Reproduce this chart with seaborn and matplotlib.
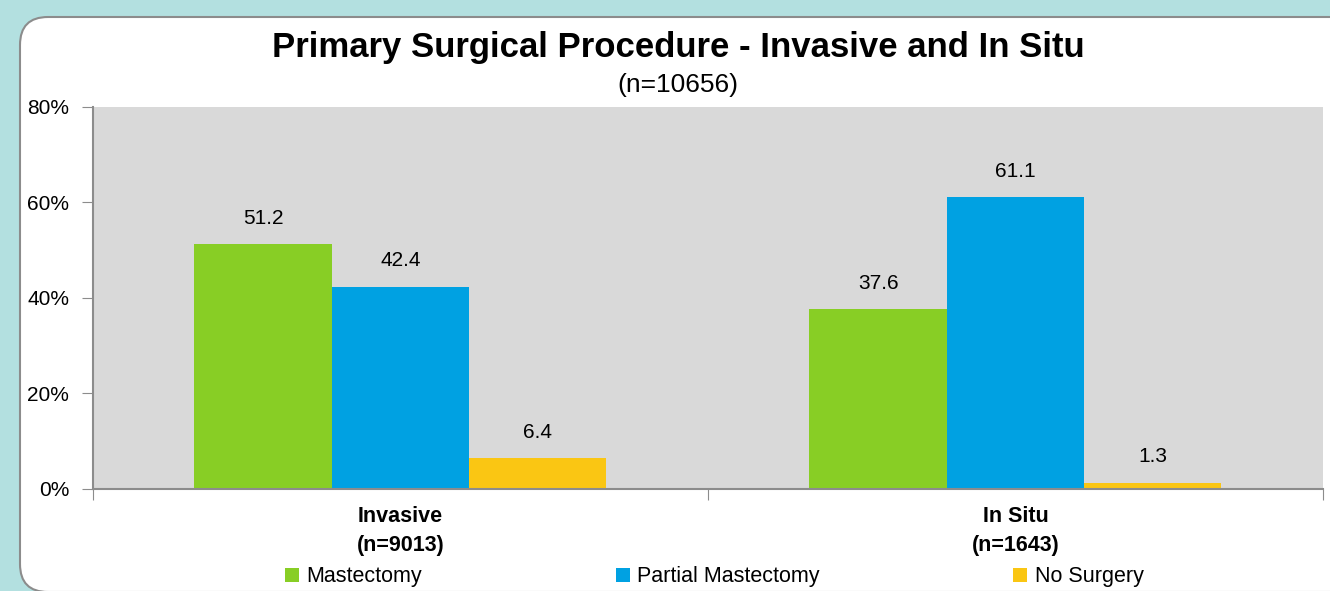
import numpy as np
import pandas as pd
import matplotlib.pyplot as plt
import seaborn as sns
from matplotlib.patches import FancyBboxPatch, Patch

# chart data
groups = ['Invasive\n(n=9013)', 'In Situ\n(n=1643)']
procedures = ['Mastectomy', 'Partial Mastectomy', 'No Surgery']
mastectomy = [51.2, 37.6]
partial = [42.4, 61.1]
no_surgery = [6.4, 1.3]
colors = ['#88CE25', '#00A1E2', '#FAC613']

df = pd.DataFrame({
    'group': groups * 3,
    'procedure': [p for p in procedures for _ in groups],
    'pct': mastectomy + partial + no_surgery,
})

sns.set_style('white')
plt.rcParams['font.family'] = ['Liberation Sans', 'DejaVu Sans']
plt.rcParams['text.color'] = 'black'
plt.rcParams['xtick.labelcolor'] = 'black'
plt.rcParams['ytick.labelcolor'] = 'black'

fig = plt.figure(figsize=(13.3, 5.91), dpi=100)
fig.patch.set_facecolor('#B3E0E0')
# white rounded panel, runs off the right edge
panel = FancyBboxPatch((0.2, -0.01), 13.5, 5.75,
                       boxstyle='round,pad=0,rounding_size=0.28',
                       transform=fig.dpi_scale_trans, facecolor='white',
                       edgecolor='#8C8C8C', linewidth=1.5, zorder=0)
fig.add_artist(panel)

ax = fig.add_axes([0.0699, 0.1726, 0.9248, 0.6464])
ax.set_facecolor('#D9D9D9')
sns.barplot(data=df, x='group', y='pct', hue='procedure', palette=colors,
            saturation=1, width=0.67, ax=ax, edgecolor='none', linewidth=0)
for c in ax.containers:
    ax.bar_label(c, fmt='%.1f', padding=12, fontsize=15, color='black')

ax.set_ylim(0, 80)
ax.set_xlim(-0.5, 1.5)
ax.set_yticks([0, 20, 40, 60, 80])
ax.set_yticklabels([f'{v}%' for v in [0, 20, 40, 60, 80]], fontsize=15)
ax.tick_params(axis='y', length=8, color='#8C8C8C', left=True, pad=9)
# category labels on minor ticks, boundaries as major ticks
ax.set_xticks([-0.5, 0.5, 1.5])
ax.set_xticklabels([])
ax.tick_params(axis='x', which='major', length=8, color='#8C8C8C', bottom=True)
ax.set_xticks([0, 1], minor=True)
ax.set_xticklabels(groups, minor=True, fontsize=15.5, fontweight='bold',
                   linespacing=1.55)
ax.tick_params(axis='x', which='minor', length=0, pad=12)
ax.set_xlabel('')
ax.set_ylabel('')
for s in ['top', 'right']:
    ax.spines[s].set_visible(False)
for s in ['left', 'bottom']:
    ax.spines[s].set_color('#8C8C8C')
    ax.spines[s].set_linewidth(1.5)
ax.legend_.remove()

handles = [Patch(facecolor=c, edgecolor='none') for c in colors]
fig.legend(handles, procedures, loc='center', bbox_to_anchor=(0.537, 0.024),
           ncol=3, frameon=False, fontsize=15.5, handlelength=0.65,
           handleheight=0.65, handletextpad=0.35, columnspacing=9.0,
           borderpad=0, borderaxespad=0)

fig.text(0.51, 0.919, 'Primary Surgical Procedure - Invasive and In Situ',
         ha='center', va='center', fontsize=25, fontweight='bold')
fig.text(0.51, 0.856, '(n=10656)', ha='center', va='center', fontsize=19)

fig.savefig('out.png', dpi=100, facecolor=fig.get_facecolor())
